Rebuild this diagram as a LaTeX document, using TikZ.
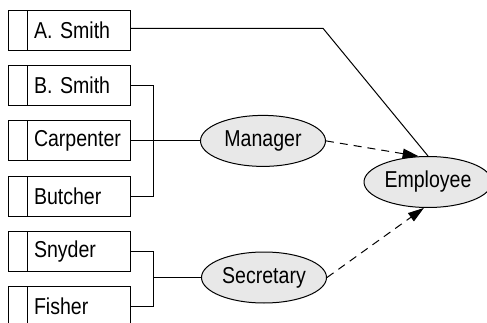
\documentclass[tikz,border=0pt]{standalone}
\usepackage{fontspec}
\setmainfont{Liberation Sans}[FakeStretch=0.85]
\usetikzlibrary{arrows.meta,shapes.geometric}
\definecolor{rolefill}{RGB}{232,232,232}
\tikzset{
  namebox/.style={draw, line width=1pt, minimum width=122pt, minimum height=40pt,
    inner xsep=0pt, inner ysep=0pt, text width=122pt, align=left,
    execute at begin node={\hyphenpenalty=10000\hskip26pt},
    path picture={\draw[line width=1pt]
      ([xshift=19.5pt]path picture bounding box.north west) --
      ([xshift=19.5pt]path picture bounding box.south west);}},
  role/.style={ellipse, draw, line width=1pt, fill=rolefill, inner sep=0pt,
    minimum width=125pt, minimum height=51pt},
  link/.style={line width=1pt},
  isa/.style={line width=1pt, dash pattern=on 8pt off 6pt,
    -{Triangle[length=16pt,width=10pt]}}
}
\begin{document}
\begin{tikzpicture}[x=1pt,y=-1pt,font=\fontsize{23}{27}\selectfont]
  \useasboundingbox (0,0) rectangle (487,323);
  \begin{scope}
  \clip (0,0) rectangle (487,323);

  % people
  \node[namebox] (a) at (69,30.5)  {A. Smith};
  \node[namebox] (b) at (69,85.7)  {B. Smith};
  \node[namebox] (c) at (69,140.9) {Carpenter};
  \node[namebox] (d) at (69,196.1) {Butcher};
  \node[namebox] (s) at (69,251.3) {Snyder};
  \node[namebox] (f) at (69,306.5) {Fisher};

  % roles
  \node[role] (mgr) at (263,140.9) {Manager};
  \node[role] (sec) at (264,277.5) {Secretary};
  \node[role, minimum width=128pt] (emp) at (428,182) {Employee};

  % grouping brackets
  \draw[link] (b.east) -- ++(23,0) coordinate (jm) |- (d.east);
  \draw[link] (c.east) -- (mgr.west);
  \draw[link] (s.east) -- ++(23,0) coordinate (js) |- (f.east);
  \draw[link] (sec.west) -- (sec.west -| js);

  % direct membership
  \coordinate (bend) at (323,28.3);
  \draw[link] ([yshift=2.2pt]a.east) -- (bend) -- (emp.north);

  % specialisation arrows
  \draw[isa] (mgr.east) -- (emp.110);
  \draw[isa] (sec.east) -- (emp.261);
  \end{scope}
\end{tikzpicture}
\end{document}
